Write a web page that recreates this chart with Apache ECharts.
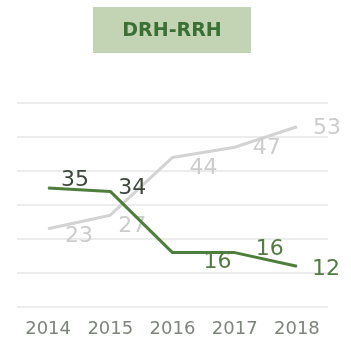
<!DOCTYPE html>
<html>
<head>
<meta charset="utf-8">
<script src="https://cdn.jsdelivr.net/npm/echarts@6/dist/echarts.min.js"></script>
<style>html,body{margin:0;padding:0;background:#fff}#c{width:351px;height:349px}</style>
</head>
<body>
<div id="c"></div>
<script>
const years = ['2014','2015','2016','2017','2018'];
const drhValues = [35, 34, 16, 16, 12];
const rrhValues = [23, 27, 44, 47, 53];
const titleText = 'DRH-RRH';

// label offsets (style)
const drhOffsets = [[27,-8],[22,-3],[45,10],[35,-3],[29,3]];
const rrhOffsets = [[31,7],[22,11],[31,11],[32,1],[30,1]];
const drhLabelColors = ['#3d473a','#3d473a','#557a45','#557a45','#557a45'];

const chart = echarts.init(document.getElementById('c'), null, {renderer:'canvas'});
const font = 'DejaVu Sans';
chart.setOption({
  animation:false,
  backgroundColor:'#fff',
  grid:{left:17,right:23,top:103,bottom:42},
  xAxis:{type:'category',data:years,boundaryGap:true,
    axisLine:{show:false},axisTick:{show:false},
    axisLabel:{color:'#7d857b',fontFamily:font,fontSize:18,margin:13}},
  yAxis:{type:'value',min:0,max:60,interval:10,
    axisLabel:{show:false},axisLine:{show:false},axisTick:{show:false},
    splitLine:{lineStyle:{color:'#ececec',width:2}}},
  graphic:[{type:'group',children:[
    {type:'rect',shape:{x:93,y:7,width:158,height:46},style:{fill:'#c3d4b4'}},
    {type:'text',x:172,y:31,style:{text:titleText,fill:'#3a7034',font:'bold 19px "DejaVu Sans"',textAlign:'center',textVerticalAlign:'middle'}}
  ]}],
  series:[
    {type:'line',data:rrhValues.map((v,i)=>({value:v,label:{offset:rrhOffsets[i]}})),
      symbol:'circle',symbolSize:1,showSymbol:true,itemStyle:{color:'#d3d3d3'},lineStyle:{color:'#d3d3d3',width:3},
      label:{show:true,position:'inside',color:'#cdcdcd',fontFamily:font,fontSize:22},z:2},
    {type:'line',data:drhValues.map((v,i)=>({value:v,label:{offset:drhOffsets[i],color:drhLabelColors[i]}})),
      symbol:'circle',symbolSize:1,showSymbol:true,itemStyle:{color:'#4e7d3c'},lineStyle:{color:'#4e7d3c',width:3},
      label:{show:true,position:'inside',fontFamily:font,fontSize:22},z:3}
  ]
});
</script>
</body>
</html>
